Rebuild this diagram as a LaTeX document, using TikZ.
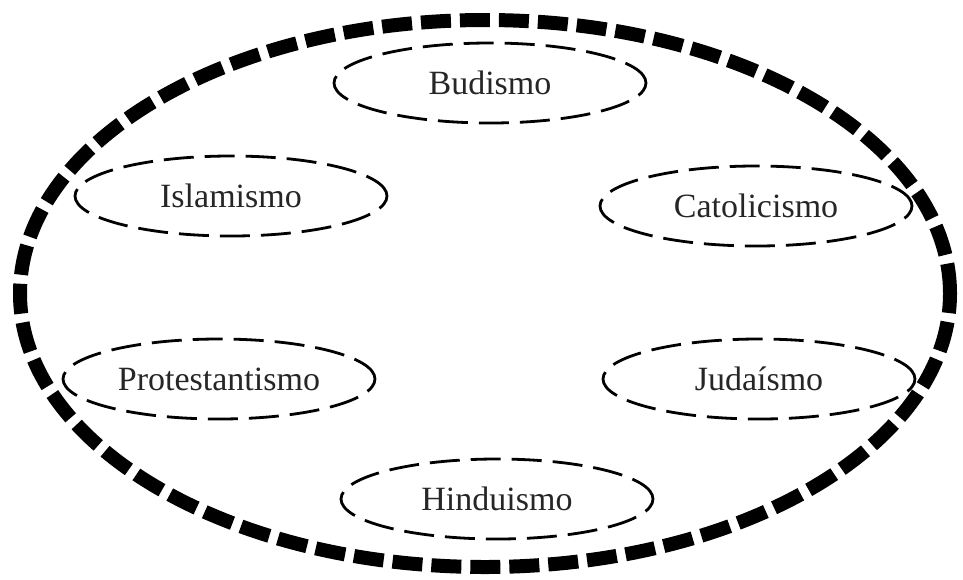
\documentclass[tikz,border=0pt]{standalone}
\usepackage{fontspec}
\setmainfont{Liberation Serif}
\usetikzlibrary{shapes.geometric}
\tikzset{
  ring/.style={ellipse, draw, line width=14pt, dash pattern=on 30pt off 9pt,
    minimum width=930pt, minimum height=547pt, inner sep=0pt},
  faith/.style={ellipse, draw, line width=2.8pt, dash pattern=on 30pt off 11pt,
    minimum width=312pt, minimum height=80pt, inner sep=0pt,
    font=\fontsize{34}{38}\selectfont, text=black!85}
}
\begin{document}
\begin{tikzpicture}[x=1pt, y=-1pt]
  \useasboundingbox (0,0) rectangle (963,579);
  \node[ring] (world) at (485,293.5) {};
  \node[faith] (bud) at (490,83) {Budismo};
  \node[faith] (isl) at (231,196) {Islamismo};
  \node[faith] (cat) at (756,206) {Catolicismo};
  \node[faith] (pro) at (219,379) {Protestantismo};
  \node[faith] (jud) at (759,379) {Judaísmo};
  \node[faith] (hin) at (497,499) {Hinduismo};
\end{tikzpicture}
\end{document}
